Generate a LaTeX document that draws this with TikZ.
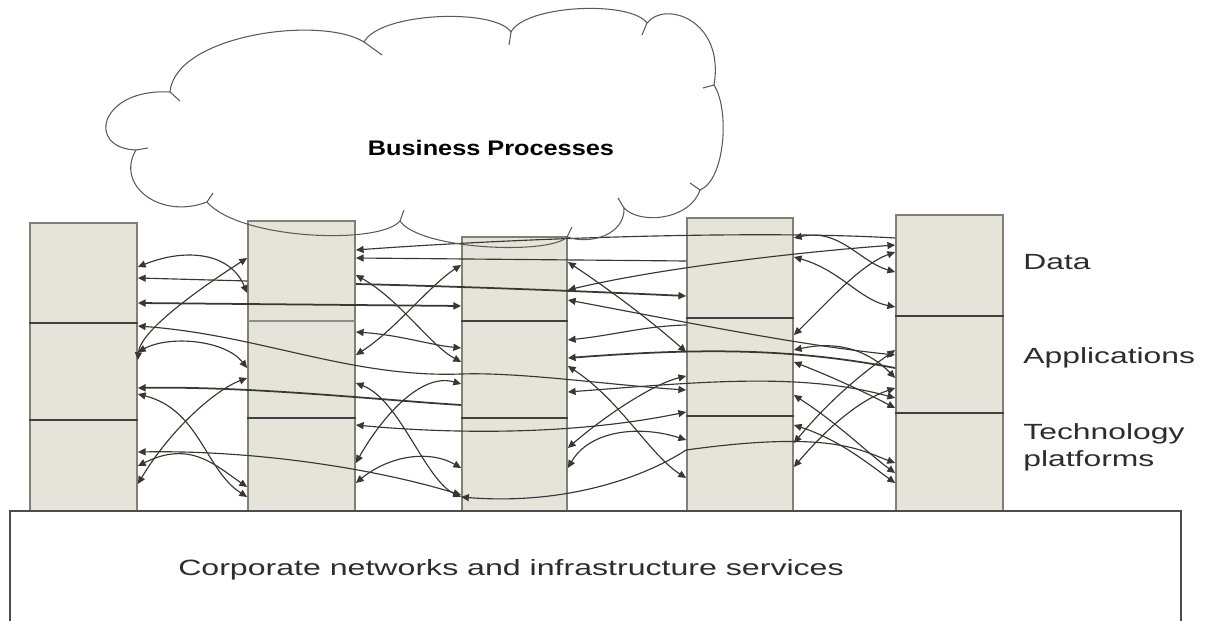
\documentclass[tikz,border=0pt]{standalone}
\usepackage{fontspec}
\setmainfont{Liberation Sans}
\newfontfamily\labelfont[FakeStretch=1.45]{Liberation Sans}
\newfontfamily\titlefont[FakeStretch=1.2]{Liberation Sans}
\usetikzlibrary{arrows.meta,fit}

\definecolor{pillarfill}{RGB}{230,227,217}
\definecolor{pillarline}{RGB}{128,128,118}
\definecolor{wire}{RGB}{55,55,52}
\definecolor{cloudline}{RGB}{90,90,88}
\definecolor{labelgray}{RGB}{45,45,45}

\tikzset{
  pillar/.style={draw=pillarline, fill=pillarfill, line width=1pt, inner sep=0pt},
  divider/.style={draw=black!75, line width=0.9pt},
  wire/.style={draw=wire, line width=0.65pt},
  heavywire/.style={draw=wire, line width=1pt},
  basebox/.style={draw=black!70, fill=white, line width=1.1pt, inner sep=0pt},
  layerlabel/.style={font=\labelfont\fontsize{12.5}{15.9}\selectfont, text=labelgray,
                     anchor=base west, inner sep=0pt, align=left},
}

\begin{document}
\begin{tikzpicture}[x=0.02cm, y=-0.02cm,
    >={Triangle[length=4.4pt,width=4pt]}]
  \clip (0,0) rectangle (1211,621);
  \fill[white] (0,0) rectangle (1211,621);

  % the five application stacks
  \node[pillar, fit={(30,223) (137,512)}]  (P1) {};
  \node[pillar, fit={(248,221) (355,512)}] (P2) {};
  \node[pillar, fit={(462,237) (567,512)}] (P3) {};
  \node[pillar, fit={(687,218) (793,512)}] (P4) {};
  \node[pillar, fit={(896,215) (1003,512)}] (P5) {};

  % layer boundaries inside each stack
  \draw[divider] (P1.west|-0,323) -- (P1.east|-0,323);
  \draw[divider] (P1.west|-0,420) -- (P1.east|-0,420);
  \draw[divider, draw=black!45] (P2.west|-0,321) -- (P2.east|-0,321);
  \draw[divider] (P2.west|-0,418) -- (P2.east|-0,418);
  \draw[divider] (P3.west|-0,321) -- (P3.east|-0,321);
  \draw[divider] (P3.west|-0,418) -- (P3.east|-0,418);
  \draw[divider] (P4.west|-0,318) -- (P4.east|-0,318);
  \draw[divider] (P4.west|-0,416) -- (P4.east|-0,416);
  \draw[divider] (P5.west|-0,316) -- (P5.east|-0,316);
  \draw[divider] (P5.west|-0,413) -- (P5.east|-0,413);

  % shared infrastructure
  \node[basebox, fit={(10,511) (1181,630)}] (base) {};
  \node[font=\labelfont\fontsize{12.6}{15}\selectfont, text=labelgray, anchor=base]
    (infra) at (511,576) {Corporate networks and infrastructure services};

  % point-to-point interfaces between stacks 1 and 2
  \draw[wire,<->] (P1.east|-0,267) .. controls (185,248) and (230,252) .. (P2.west|-0,293);
  \draw[wire,<-]  (P1.east|-0,278) -- (P2.west|-0,281);
  \draw[wire,<->] (P1.east|-0,352) .. controls (170,335) and (225,340) .. (P2.west|-0,368);
  \draw[wire,<->] (P1.east|-0,360) .. controls (140,330) and (205,285) .. (P2.west|-0,258);
  \draw[wire,<->] (P1.east|-0,394) .. controls (200,410) and (205,470) .. (P2.west|-0,497);
  \draw[wire,<->] (P1.east|-0,484) .. controls (170,430) and (215,390) .. (P2.west|-0,378);
  \draw[wire,<->] (P1.east|-0,466) .. controls (190,440) and (215,465) .. (P2.west|-0,487);
  \draw[heavywire,<->] (P1.east|-0,303) -- (P3.west|-0,306);
  \draw[wire,<->] (P1.east|-0,326) .. controls (260,335) and (350,378) .. (P3.west|-0,374)
                   .. controls (520,372) and (610,385) .. (P4.west|-0,390);
  \draw[heavywire,<-] (P1.east|-0,388) .. controls (250,386) and (380,400) .. (P3.west|-0,405);
  \draw[wire,<->] (P1.east|-0,452) .. controls (260,450) and (380,470) .. (P3.west|-0,495);

  % stacks 2 and 3
  \draw[wire,<-]  (P2.east|-0,250) .. controls (520,238) and (760,230) .. (P5.west|-0,238);
  \draw[wire,<-]  (P2.east|-0,258) -- (P4.west|-0,261);
  \draw[wire,<->] (P2.east|-0,275) .. controls (400,300) and (430,345) .. (P3.west|-0,362);
  \draw[wire,<->] (P2.east|-0,355) .. controls (395,330) and (430,285) .. (P3.west|-0,265);
  \draw[heavywire,->] (P2.east|-0,284) .. controls (480,287) and (600,292) .. (P4.west|-0,296);
  \draw[wire,<->] (P2.east|-0,332) .. controls (400,335) and (430,345) .. (P3.west|-0,348);
  \draw[wire,<->] (P2.east|-0,383) .. controls (400,400) and (425,480) .. (P3.west|-0,497);
  \draw[wire,<->] (P2.east|-0,463) .. controls (380,420) and (420,372) .. (P3.west|-0,384);
  \draw[wire,<->] (P2.east|-0,483) .. controls (390,455) and (430,450) .. (P3.west|-0,468);
  \draw[wire,<->] (P2.east|-0,425) .. controls (430,432) and (560,438) .. (P4.west|-0,412);

  % stacks 3 and 4
  \draw[wire,<->] (P3.east|-0,262) .. controls (610,290) and (650,320) .. (P4.west|-0,352);
  \draw[wire,<->] (P3.east|-0,290) .. controls (660,268) and (800,252) .. (P5.west|-0,245);
  \draw[wire,<-]  (P3.east|-0,340) .. controls (615,335) and (645,326) .. (P4.west|-0,325);
  \draw[heavywire,<-] (P3.east|-0,358) .. controls (700,348) and (790,348) .. (P5.west|-0,368);
  \draw[wire,<->] (P3.east|-0,366) .. controls (620,400) and (650,455) .. (P4.west|-0,478);
  \draw[wire,<->] (P3.east|-0,392) .. controls (700,382) and (800,372) .. (P5.west|-0,398);
  \draw[wire,<->] (P3.east|-0,448) .. controls (600,420) and (650,385) .. (P4.west|-0,376);
  \draw[wire,<->] (P3.east|-0,468) .. controls (590,430) and (640,425) .. (P4.west|-0,440);
  \draw[wire,<->] (P3.west|-0,497) .. controls (560,505) and (640,480) .. (P4.west|-0,450)
                   .. controls (830,430) and (860,450) .. (P5.west|-0,463);
  \draw[wire,<->] (P3.east|-0,300) .. controls (700,325) and (800,345) .. (P5.west|-0,355);

  % stacks 4 and 5
  \draw[wire,<->] (P4.east|-0,238) .. controls (840,228) and (860,262) .. (P5.west|-0,272);
  \draw[wire,<->] (P4.east|-0,257) .. controls (840,270) and (860,300) .. (P5.west|-0,307);
  \draw[wire,<->] (P4.east|-0,335) .. controls (830,300) and (860,265) .. (P5.west|-0,252);
  \draw[wire,<->] (P4.east|-0,350) .. controls (840,340) and (870,352) .. (P5.west|-0,378);
  \draw[wire,<->] (P4.east|-0,362) .. controls (840,380) and (870,395) .. (P5.west|-0,408);
  \draw[wire,<->] (P4.east|-0,443) .. controls (830,400) and (860,375) .. (P5.west|-0,350);
  \draw[wire,<->] (P4.east|-0,467) .. controls (830,425) and (860,400) .. (P5.west|-0,388);
  \draw[wire,<->] (P4.east|-0,395) .. controls (840,425) and (870,455) .. (P5.west|-0,473);
  \draw[wire,<->] (P4.east|-0,425) .. controls (840,440) and (870,465) .. (P5.west|-0,483);

  % business process cloud
  \draw[cloudline, line width=0.6pt, line join=round]
    (136,150) .. controls (85,148) and (100,88) .. (170,92)
    .. controls (175,35) and (320,15) .. (364,42)
    .. controls (380,12) and (495,8) .. (511,32)
    .. controls (525,5) and (630,0) .. (647,23)
    .. controls (665,0) and (725,20) .. (714,85)
    .. controls (730,110) and (725,180) .. (700,190)
    .. controls (690,220) and (640,225) .. (624,208)
    .. controls (625,235) and (590,245) .. (567,237)
    .. controls (550,255) and (420,250) .. (400,221)
    .. controls (380,245) and (240,240) .. (207,202)
    .. controls (160,220) and (115,185) .. (136,150) -- cycle;
  \draw[cloudline, line width=0.6pt]
    (170,92) -- (180,101)  (364,42) -- (382,55)  (511,32) -- (509,45)
    (647,23) -- (642,35)   (714,85) -- (703,88)  (700,190) -- (690,183)
    (624,208) -- (618,198) (567,237) -- (572,227) (400,221) -- (404,210)
    (207,202) -- (213,193) (136,150) -- (148,148);
  \node[font=\titlefont\bfseries\fontsize{12}{14}\selectfont, anchor=center]
    (bp) at (491,148) {Business Processes};

  % layer names
  \node[layerlabel] (lData) at (1023,270) {Data};
  \node[layerlabel] (lApps) at (1023,364) {Applications};
  \node[layerlabel] (lTech) at (1023,467) {Technology\\platforms};
\end{tikzpicture}
\end{document}
